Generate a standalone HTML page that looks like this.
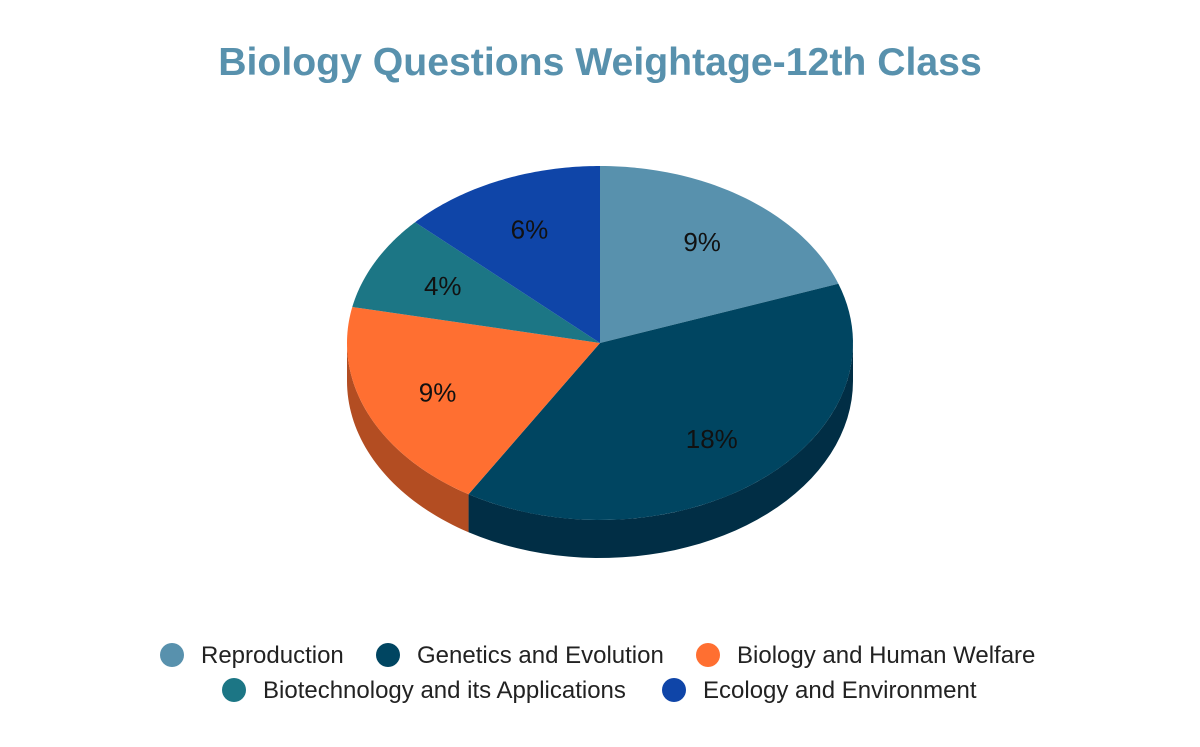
<!DOCTYPE html>
<html><head><meta charset="utf-8"><style>
body{margin:0;background:#fff;width:1200px;height:742px;overflow:hidden;font-family:"Liberation Sans",sans-serif}
</style></head><body>
<svg id="chart" width="1200" height="742">
<text x="600" y="75" text-anchor="middle" font-size="39.2" font-weight="bold" fill="#5891ad">Biology Questions Weightage-12th Class</text>
<g id="pie"></g>
<g id="legend"></g>
</svg>
<script>
const categories=["Reproduction","Genetics and Evolution","Biology and Human Welfare","Biotechnology and its Applications","Ecology and Environment"];
const values=[9,18,9,4,6];
const colors=["#5891ad","#004561","#ff6f31","#1c7685","#0f45a8"];
const sideColors=["#3e6a80","#012e45","#b34d22","#135460","#0a3178"];
const NS="http://www.w3.org/2000/svg";
const cx=600,cy=343,rx=253,ry=177,depth=38;
const pie=document.getElementById('pie');
const total=values.reduce((a,b)=>a+b,0);
function pt(a,dy){return [cx+rx*Math.sin(a),cy-ry*Math.cos(a)+(dy||0)];}
let start=0;const slices=[];
values.forEach((v,i)=>{const e=start+v/total*2*Math.PI;slices.push([start,e]);start=e;});
slices.forEach(([s,e],i)=>{
  const a0=Math.max(s,Math.PI/2),a1=Math.min(e,3*Math.PI/2);
  if(a1<=a0)return;
  let top=[],bot=[];
  for(let k=0;k<=40;k++){const a=a0+(a1-a0)*k/40;top.push(pt(a));bot.unshift(pt(a,depth));}
  const p=document.createElementNS(NS,'polygon');
  p.setAttribute('points',top.concat(bot).map(q=>q.join(',')).join(' '));
  p.setAttribute('fill',sideColors[i]);
  
  
  pie.appendChild(p);
});
slices.forEach(([s,e],i)=>{
  let pts=[[cx,cy]];
  for(let k=0;k<=60;k++){pts.push(pt(s+(e-s)*k/60));}
  const p=document.createElementNS(NS,'polygon');
  p.setAttribute('points',pts.map(q=>q.join(',')).join(' '));
  p.setAttribute('fill',colors[i]);
  
  
  pie.appendChild(p);
});
slices.forEach(([s,e],i)=>{
  const m=(s+e)/2;
  const t=document.createElementNS(NS,'text');
  t.setAttribute('x',cx+0.7*rx*Math.sin(m));
  t.setAttribute('y',cy-0.7*ry*Math.cos(m)+9);
  t.setAttribute('text-anchor','middle');t.setAttribute('font-size','26');t.setAttribute('fill','#111');
  t.textContent=values[i]+'%';
  
  
  pie.appendChild(t);
});
const legPos=[[172,655],[388,655],[708,655],[234,690],[674,690]];
const leg=document.getElementById('legend');
categories.forEach((c,i)=>{
  const [x,y]=legPos[i];
  const g=document.createElementNS(NS,'g');
  
  
  const ci=document.createElementNS(NS,'circle');
  ci.setAttribute('cx',x);ci.setAttribute('cy',y);ci.setAttribute('r',12);ci.setAttribute('fill',colors[i]);
  const t=document.createElementNS(NS,'text');
  t.setAttribute('x',x+29);t.setAttribute('y',y+8);t.setAttribute('font-size','24');t.setAttribute('fill','#222');
  t.textContent=c;
  g.appendChild(ci);g.appendChild(t);leg.appendChild(g);
});
</script>
</body></html>
